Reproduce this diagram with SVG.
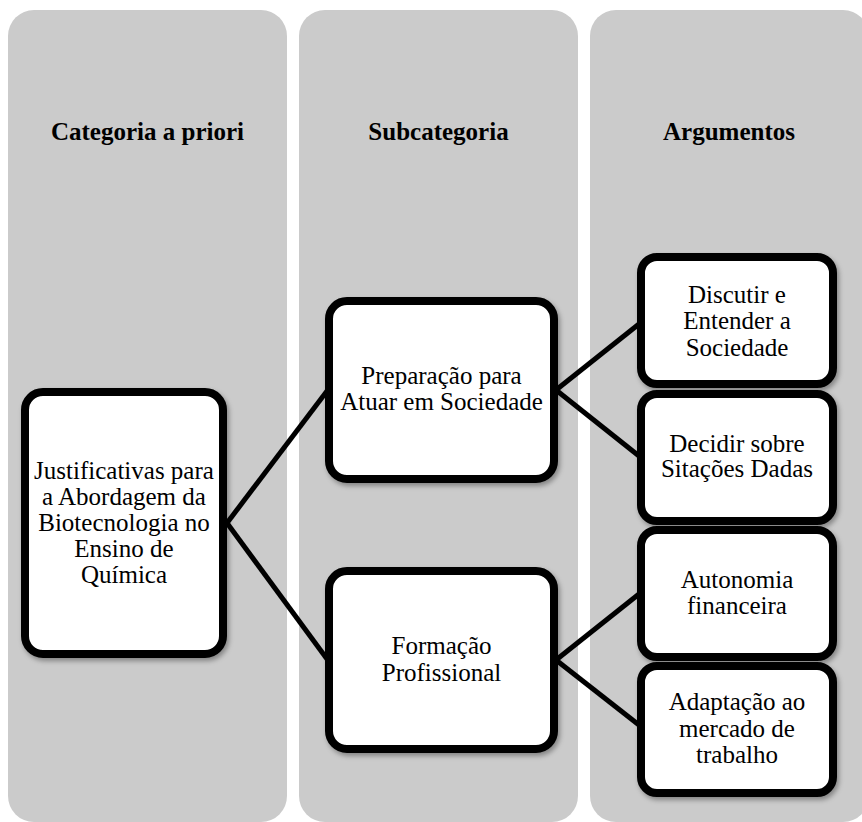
<svg xmlns="http://www.w3.org/2000/svg" width="862" height="822" viewBox="0 0 862 822">
<defs>
<style>
.col{fill:#cbcbcb;}
.hdr{font-family:'Liberation Serif','DejaVu Serif',serif;font-size:25px;font-weight:bold;text-anchor:middle;fill:#000;}
.box{fill:#fff;stroke:#000;stroke-width:8;filter:url(#sh);}
.txt{font-family:'Liberation Serif','DejaVu Serif',serif;font-size:25px;text-anchor:middle;fill:#000;}
.conn{stroke:#000;stroke-width:5;fill:none;}
</style>
<filter id="sh" x="-10%" y="-10%" width="130%" height="130%">
<feDropShadow dx="2" dy="3" stdDeviation="2.5" flood-color="#000" flood-opacity="0.35"/>
</filter>
</defs>
<rect width="862" height="822" fill="#fff"/>
<g id="columns">
<g id="col1"><rect class="col" x="8" y="10" width="279" height="812" rx="26"/><text class="hdr" font-family="Liberation Serif" x="147.5" y="140">Categoria a priori</text></g>
<g id="col2"><rect class="col" x="299" y="10" width="279" height="812" rx="26"/><text class="hdr" font-family="Liberation Serif" x="438.5" y="140">Subcategoria</text></g>
<g id="col3"><rect class="col" x="590" y="10" width="279" height="812" rx="26"/><text class="hdr" font-family="Liberation Serif" x="729" y="140">Argumentos</text></g>
</g>
<g id="connectors">
<line class="conn" x1="227" y1="523" x2="327" y2="391"/>
<line class="conn" x1="227" y1="523" x2="327" y2="659"/>
<line class="conn" x1="556" y1="390" x2="639" y2="324"/>
<line class="conn" x1="556" y1="390" x2="639" y2="456"/>
<line class="conn" x1="556" y1="660" x2="639" y2="594"/>
<line class="conn" x1="556" y1="660" x2="639" y2="725"/>
</g>
<g id="n-justificativas"><rect class="box" x="25" y="392" width="198" height="262" rx="18"/>
<text class="txt" x="124" y="479">Justificativas para</text>
<text class="txt" x="124" y="505">a Abordagem da</text>
<text class="txt" x="124" y="531">Biotecnologia no</text>
<text class="txt" x="124" y="557">Ensino de</text>
<text class="txt" x="124" y="583">Química</text></g>
<g id="n-preparacao"><rect class="box" x="329" y="301" width="225" height="178" rx="18"/>
<text class="txt" x="441.5" y="384">Preparação para</text>
<text class="txt" x="441.5" y="410">Atuar em Sociedade</text></g>
<g id="n-formacao"><rect class="box" x="329" y="571" width="225" height="178" rx="18"/>
<text class="txt" x="441.5" y="654">Formação</text>
<text class="txt" x="441.5" y="681">Profissional</text></g>
<g id="n-discutir"><rect class="box" x="641" y="257" width="192" height="127" rx="16"/>
<text class="txt" x="737" y="303">Discutir e</text>
<text class="txt" x="737" y="329">Entender a</text>
<text class="txt" x="737" y="356">Sociedade</text></g>
<g id="n-decidir"><rect class="box" x="641" y="394" width="192" height="127" rx="16"/>
<text class="txt" x="737" y="452">Decidir sobre</text>
<text class="txt" x="737" y="477">Sitações Dadas</text></g>
<g id="n-autonomia"><rect class="box" x="641" y="530" width="192" height="127" rx="16"/>
<text class="txt" x="737" y="588">Autonomia</text>
<text class="txt" x="737" y="614">financeira</text></g>
<g id="n-adaptacao"><rect class="box" x="641" y="666" width="192" height="127" rx="16"/>
<text class="txt" x="737" y="710">Adaptação ao</text>
<text class="txt" x="737" y="737">mercado de</text>
<text class="txt" x="737" y="763">trabalho</text></g>
</svg>
